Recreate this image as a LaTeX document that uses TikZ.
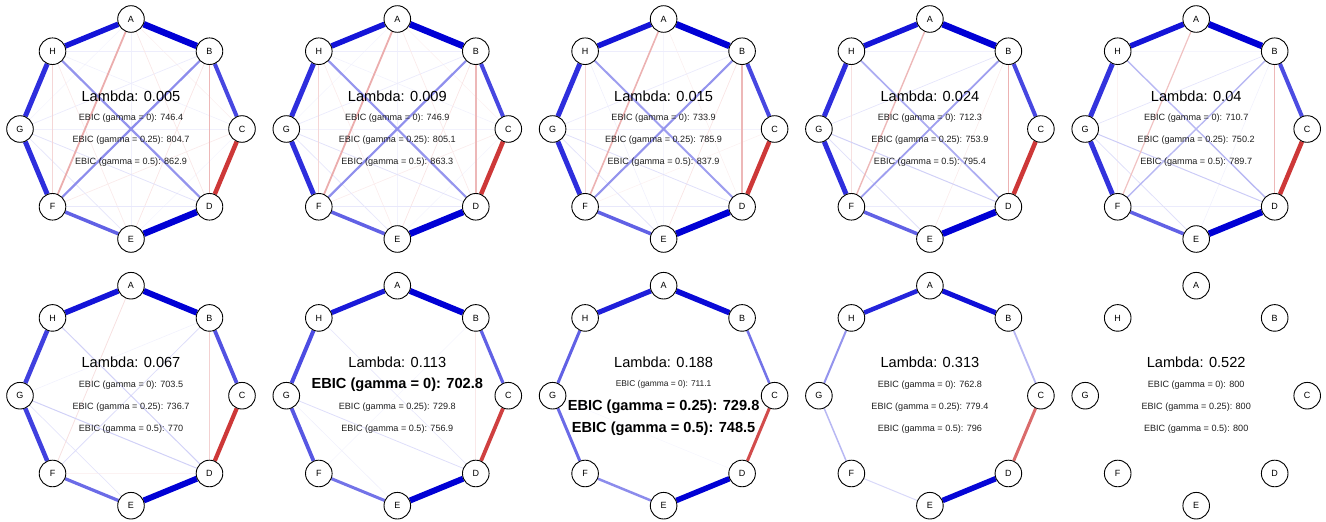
\documentclass[tikz,border=0pt]{standalone}
\usepackage{fontspec}
\setmainfont{Liberation Sans}
\usetikzlibrary{backgrounds}
\definecolor{pos}{RGB}{0,0,213}
\definecolor{neg}{RGB}{191,0,0}
\definecolor{txt}{RGB}{30,30,30}
\tikzset{
 vtx/.style={circle,draw=black,fill=white,line width=0.9pt,minimum size=26.6pt,inner sep=0pt,font=\fontsize{9}{9}\selectfont},
 lam/.style={font=\fontsize{14.6}{15}\selectfont,text=black,inner sep=0pt},
 ebic/.style={font=\fontsize{9.1}{10}\selectfont,text=txt,inner sep=0pt},
 ebicsm/.style={font=\fontsize{8.4}{9}\selectfont,text=txt,inner sep=0pt},
 ebicbf/.style={font=\fontsize{14.6}{15}\selectfont\bfseries,text=black,inner sep=0pt},
 t0a/.style={ebic}, t0b/.style={ebic}, t0c/.style={ebic},
 t1a/.style={ebicbf}, t1b/.style={ebic}, t1c/.style={ebic},
 t2a/.style={ebicsm}, t2b/.style={ebicbf}, t2c/.style={ebicbf},
}
\newcommand\mknodes[3]{%
 \begin{scope}[shift={(#2,#3)}]
  \foreach \nn/\ang in {A/-90,B/-45,C/0,D/45,E/90,F/135,G/180,H/225}
    \node[vtx] (\nn#1) at (\ang:111 and 110) {\nn};
 \end{scope}}
\newcommand\mkedges[2]{%
 \begin{pgfonlayer}{background}
  \foreach \ea/\eb/\lw/\cl in {#2}
    \draw[line width=\lw pt, draw=\cl] (\ea#1) -- (\eb#1);
 \end{pgfonlayer}}
\newcommand\mktext[8]{%
 \node[lam] (L#1) at (#2,#3-33) {Lambda: #4};
 \node[t#8a] (Ea#1) at (#2,#3-11) {EBIC (gamma = 0): #5};
 \node[t#8b] (Eb#1) at (#2,#3+11) {EBIC (gamma = 0.25): #6};
 \node[t#8c] (Ec#1) at (#2,#3+33) {EBIC (gamma = 0.5): #7};}
\begin{document}
\begin{tikzpicture}[x=1pt,y=-1pt]
\useasboundingbox (0,0) rectangle (1326,522);
% ---------- panel 1
\mknodes{1}{131}{129}
\mkedges{1}{A/G/0.6/pos!4!white, A/C/0.6/neg!6!white, C/E/0.6/pos!4!white, H/C/0.6/pos!6!white,
 A/E/0.7/pos!6!white, G/C/0.7/pos!6!white, H/B/0.7/pos!7!white, G/B/0.7/pos!8!white,
 A/D/0.7/neg!9!white, B/E/0.7/neg!10!white, H/E/0.7/neg!8!white, F/C/0.7/neg!8!white,
 G/D/0.8/pos!11!white, G/E/0.8/pos!9!white, F/D/0.8/pos!9!white, H/F/1.1/neg!16!white,
 B/D/1.6/neg!28!white, A/F/1.8/neg!32!white, H/D/2.2/pos!42!white, B/F/2.2/pos!45!white,
 E/F/3.5/pos!62!white, B/C/4/pos!72!white, C/D/4.5/neg!78!white, G/H/5/pos!82!white,
 F/G/5/pos!82!white, H/A/5.5/pos!92!white, A/B/6.5/pos, D/E/6.5/pos}
\mktext{1}{131}{129}{0.005}{746.4}{804.7}{862.9}{0}
% ---------- panel 2
\mknodes{2}{397.3}{129}
\mkedges{2}{A/G/0.6/pos!4!white, A/C/0.6/neg!5!white, C/E/0.6/pos!4!white, H/C/0.6/pos!5!white,
 A/E/0.7/pos!5!white, G/C/0.7/pos!5!white, H/B/0.7/pos!7!white, G/B/0.7/pos!8!white,
 A/D/0.7/neg!8!white, B/E/0.7/neg!10!white, H/E/0.7/neg!7!white, F/C/0.7/neg!7!white,
 G/D/0.8/pos!11!white, G/E/0.8/pos!9!white, F/D/0.8/pos!9!white, H/F/1.1/neg!16!white,
 B/D/1.6/neg!28!white, A/F/1.8/neg!32!white, H/D/2.2/pos!41!white, B/F/2.2/pos!44!white,
 E/F/3.5/pos!62!white, B/C/4/pos!72!white, C/D/4.5/neg!78!white, G/H/5/pos!82!white,
 F/G/5/pos!82!white, H/A/5.5/pos!92!white, A/B/6.5/pos, D/E/6.5/pos}
\mktext{2}{397.3}{129}{0.009}{746.9}{805.1}{863.3}{0}
% ---------- panel 3
\mknodes{3}{663.6}{129}
\mkedges{3}{A/E/0.6/pos!4!white, F/C/0.6/neg!5!white, A/D/0.6/neg!6!white, H/E/0.6/pos!6!white,
 G/C/0.6/pos!5!white, H/B/0.7/pos!7!white, G/B/0.7/pos!8!white, B/E/0.7/neg!10!white,
 G/D/0.8/pos!12!white, G/E/0.8/pos!10!white, F/D/0.8/pos!9!white, H/F/1.1/neg!16!white,
 B/D/1.5/neg!28!white, A/F/1.6/neg!30!white, H/D/2/pos!38!white, B/F/2.1/pos!42!white,
 E/F/3.5/pos!62!white, B/C/4/pos!72!white, C/D/4.5/neg!78!white, G/H/5/pos!82!white,
 F/G/5/pos!82!white, H/A/5.5/pos!92!white, A/B/6.5/pos, D/E/6.5/pos}
\mktext{3}{663.6}{129}{0.015}{733.9}{785.9}{837.9}{0}
% ---------- panel 4
\mknodes{4}{929.9}{129}
\mkedges{4}{H/B/0.7/pos!6!white, B/E/0.6/neg!8!white, F/D/0.7/pos!8!white, G/B/0.7/pos!10!white,
 G/E/0.8/pos!12!white, H/F/0.8/neg!12!white, G/D/1/pos!18!white, A/F/1.4/neg!28!white,
 B/D/1.4/neg!30!white, H/D/1.7/pos!32!white, B/F/1.8/pos!38!white,
 E/F/3.5/pos!62!white, B/C/4/pos!72!white, C/D/4.5/neg!78!white, G/H/5/pos!82!white,
 F/G/5/pos!82!white, H/A/5.5/pos!92!white, A/B/6.5/pos, D/E/6.5/pos}
\mktext{4}{929.9}{129}{0.024}{712.3}{753.9}{795.4}{0}
% ---------- panel 5
\mknodes{5}{1196.2}{129}
\mkedges{5}{H/B/0.6/pos!4!white, H/F/0.6/neg!5!white, B/E/0.6/pos!5!white, F/D/0.7/pos!8!white,
 G/B/0.7/pos!10!white, G/E/0.8/pos!12!white, G/D/1/pos!20!white, A/F/1.2/neg!24!white,
 B/D/1.3/neg!28!white, B/F/1.4/pos!28!white, H/D/1.4/pos!28!white,
 E/F/3.5/pos!62!white, B/C/4/pos!70!white, C/D/4.5/neg!78!white, G/H/5/pos!80!white,
 F/G/5/pos!80!white, H/A/5.5/pos!92!white, A/B/6.5/pos, D/E/6.5/pos}
\mktext{5}{1196.2}{129}{0.04}{710.7}{750.2}{789.7}{0}
% ---------- panel 6
\mknodes{6}{131}{395.7}
\mkedges{6}{F/D/0.6/neg!5!white, G/B/0.6/pos!5!white, G/E/0.7/pos!10!white, A/F/0.8/neg!12!white,
 B/F/0.8/pos!13!white, G/D/1/pos!18!white, H/D/1/pos!18!white, B/D/1/neg!18!white,
 E/F/3.2/pos!58!white, B/C/3.8/pos!68!white, C/D/4.2/neg!78!white, G/H/4.5/pos!75!white,
 F/G/4.5/pos!75!white, H/A/5.5/pos!92!white, A/B/6/pos, D/E/6/pos}
\mktext{6}{131}{395.7}{0.067}{703.5}{736.7}{770}{0}
% ---------- panel 7
\mknodes{7}{397.3}{395.7}
\mkedges{7}{F/B/0.6/pos!4!white, G/E/0.6/pos!6!white, B/D/0.7/neg!9!white, H/D/0.7/pos!9!white,
 G/D/0.8/pos!13!white,
 E/F/3/pos!55!white, B/C/3.2/pos!62!white, C/D/3.8/neg!75!white, G/H/4/pos!70!white,
 F/G/3.8/pos!66!white, H/A/5/pos!90!white, A/B/6/pos, D/E/6/pos}
\mktext{7}{397.3}{395.7}{0.113}{702.8}{729.8}{756.9}{1}
% ---------- panel 8
\mknodes{8}{663.6}{395.7}
\mkedges{8}{G/D/0.6/pos!3!white,
 E/F/2.5/pos!45!white, B/C/2.5/pos!55!white, C/D/3/neg!70!white, G/H/3/pos!62!white,
 F/G/3/pos!58!white, H/A/5/pos!88!white, A/B/5.5/pos!96!white, D/E/5.5/pos}
\mktext{8}{663.6}{395.7}{0.188}{711.1}{729.8}{748.5}{2}
% ---------- panel 9
\mknodes{9}{929.9}{395.7}
\mkedges{9}{E/F/1/pos!15!white, B/C/1.8/pos!28!white, C/D/3/neg!58!white, G/H/2/pos!42!white,
 F/G/1.5/pos!28!white, H/A/4.5/pos!86!white, A/B/5/pos!94!white, D/E/5.5/pos!98!white}
\mktext{9}{929.9}{395.7}{0.313}{762.8}{779.4}{796}{0}
% ---------- panel 10
\mknodes{10}{1196.2}{395.7}
\mktext{10}{1196.2}{395.7}{0.522}{800}{800}{800}{0}
\end{tikzpicture}
\end{document}
